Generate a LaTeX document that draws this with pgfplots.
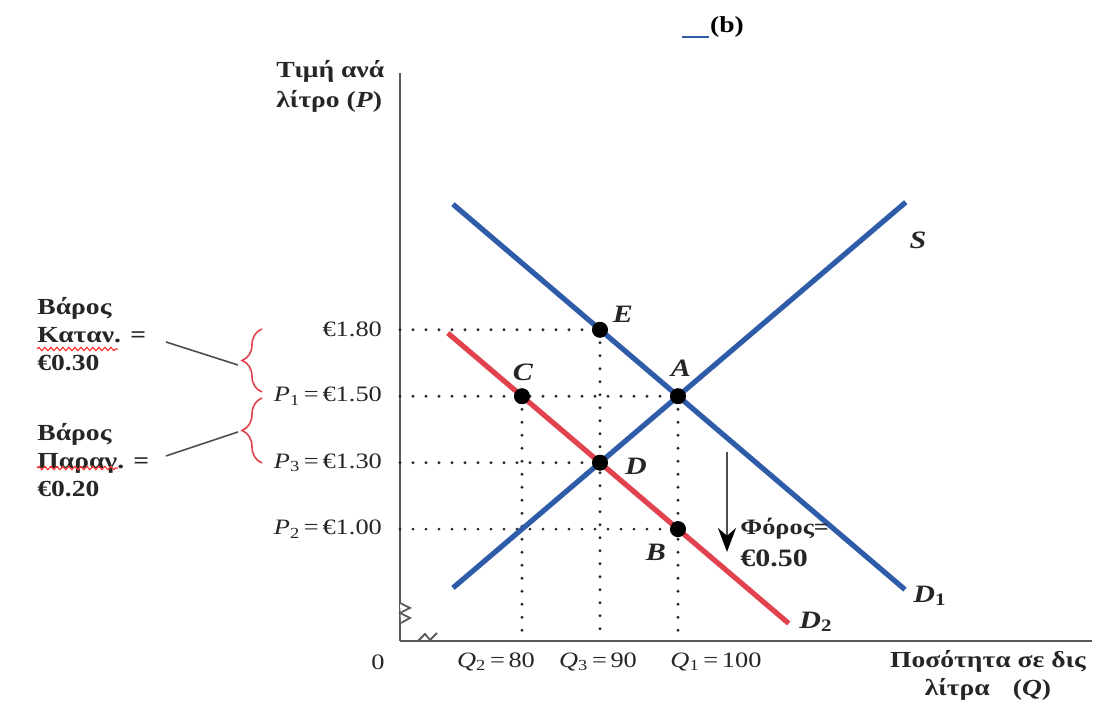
\documentclass[border=0pt]{standalone}
\usepackage{fontspec}
\setmainfont{Liberation Serif}[FakeStretch=1.2]
\usepackage{pgfplots}
\pgfplotsset{compat=1.18}
\usetikzlibrary{decorations.pathreplacing,decorations.pathmorphing,arrows.meta}
\definecolor{sblue}{RGB}{46,92,168}
\definecolor{dred}{RGB}{226,66,78}
\definecolor{axgray}{RGB}{90,90,90}
\begin{document}
\begin{tikzpicture}
\begin{scope}[x=0.5pt,y=-0.5pt,shift={(-200pt,320.5pt)}]
\useasboundingbox (0,0) rectangle (1104,721);
\end{scope}
\begin{axis}[
 at={(0,0)}, anchor=south west,
 scale only axis, width=346pt, height=284pt,
 xmin=64.36, xmax=153.08, ymin=-0.684, ymax=7.865,
 axis lines=left, axis line style={-, axgray, line width=1.1pt},
 xtick=\empty, ytick={1,2,3,4},
 yticklabels={{\textit{P}\textsubscript{2}\,=\,€1.00},{\textit{P}\textsubscript{3}\,=\,€1.30},{\textit{P}\textsubscript{1}\,=\,€1.50},{€1.80}},
 major tick length=0pt,
 yticklabel style={font=\fontsize{11}{12}\selectfont, xshift=-5.5pt, text=black!85},
 clip=false,
 dotl/.style={black!85, line width=1.6pt, line cap=round, dash pattern=on 0pt off 6.5pt},
]
% dotted guide lines
\addplot[dotl] coordinates {(64.36,4) (90,4)};
\addplot[dotl] coordinates {(64.36,3) (100,3)};
\addplot[dotl] coordinates {(64.36,2) (90,2)};
\addplot[dotl] coordinates {(64.36,1) (100,1)};
\addplot[dotl] coordinates {(80,3) (80,-0.58)};
\addplot[dotl] coordinates {(90,4) (90,-0.58)};
\addplot[dotl] coordinates {(100,3) (100,-0.58)};
% curves
\addplot[sblue, line width=2.6pt] coordinates {(71.15,5.89) (129.1,0.09)}; % D1
\addplot[sblue, line width=2.6pt] coordinates {(71.15,0.115) (129.2,5.92)}; % S
\addplot[dred, line width=2.6pt] coordinates {(70.5,3.95) (114.2,-0.42)}; % D2
% points
\addplot[only marks, mark=*, mark size=3.8pt, black] coordinates {(90,4) (80,3) (100,3) (90,2) (100,1)};
\end{axis}
\begin{scope}[x=0.5pt,y=-0.5pt,shift={(-200pt,320.5pt)}]
% axis breaks
\draw[axgray, line width=0.9pt, fill=white] (400,603) -- (410,608) -- (400,613) -- (410,618) -- (401,623);
\draw[axgray, line width=0.9pt] (418,641) -- (425,634) -- (430,640) -- (437,633);
% title
\node[font=\bfseries\fontsize{11.5}{12}\selectfont] at (727,27) {(b)};
\draw[sblue, line width=1pt] (682,37) -- (709,37);
% axis labels
\node[anchor=north west, inner sep=0pt, align=left, font=\bfseries\fontsize{11.5}{15}\selectfont, text=black!85] at (276,60) {Τιμή ανά\\λίτρο (\textit{P})};
\node[anchor=north, inner sep=0pt, align=center, font=\bfseries\fontsize{11.5}{14}\selectfont, text=black!85] at (988,650) {Ποσότητα σε δις\\λίτρα\quad(\textit{Q})};
\node[font=\fontsize{11}{12}\selectfont, text=black!85] at (378,662) {0};
% Q labels
\node[font=\fontsize{11}{12}\selectfont, text=black!85] at (496,662) {\textit{Q}\textsubscript{2}\,=\,80};
\node[font=\fontsize{11}{12}\selectfont, text=black!85] at (598,662) {\textit{Q}\textsubscript{3}\,=\,90};
\node[font=\fontsize{11}{12}\selectfont, text=black!85] at (716,662) {\textit{Q}\textsubscript{1}\,=\,100};
% point labels
\begin{scope}[every node/.style={font=\bfseries\itshape\fontsize{12.5}{13}\selectfont, text=black!85}]
\node at (623,314) {E};
\node at (523,372) {C};
\node at (681,368) {A};
\node at (636,466) {D};
\node at (656,552) {B};
\node at (918,240) {S};
\node at (930,596) {D\textsubscript{\upshape 1}};
\node at (816,622) {D\textsubscript{\upshape 2}};
\end{scope}
% tax arrow
\draw[black!70, line width=1.2pt, -{Stealth[length=12pt, width=9pt, black]}] (727,452) -- (727,552);
\node[anchor=west, inner sep=0pt, font=\bfseries\fontsize{11}{12}\selectfont, text=black!85] at (740,529) {Φόρος=};
\node[anchor=west, inner sep=0pt, font=\bfseries\fontsize{12.5}{13}\selectfont, text=black!85] at (740,558) {€0.50};
% left annotations
\node[anchor=north west, inner sep=0pt, align=left, font=\bfseries\fontsize{11.5}{14}\selectfont, text=black!85] at (37,297) {Βάρος\\Καταν. =\\€0.30};
\node[anchor=north west, inner sep=0pt, align=left, font=\bfseries\fontsize{11.5}{14}\selectfont, text=black!85] at (37,423) {Βάρος\\Παραγ. =\\€0.20};
\draw[red!80, line width=0.6pt, decorate, decoration={snake, amplitude=0.8pt, segment length=3pt}] (37,349) -- (118,349);
\draw[red!80, line width=0.6pt, decorate, decoration={snake, amplitude=0.8pt, segment length=3pt}] (37,468) -- (118,468);
\draw[black!70, line width=0.8pt] (166,342) -- (238,365);
\draw[black!70, line width=0.8pt] (166,456) -- (238,432);
% braces
\draw[dred, line width=0.8pt, decorate, decoration={brace, amplitude=10pt}] (262,392) -- (262,329);
\draw[dred, line width=0.8pt, decorate, decoration={brace, amplitude=10pt}] (262,463) -- (262,398);
\end{scope}
\end{tikzpicture}
\end{document}
